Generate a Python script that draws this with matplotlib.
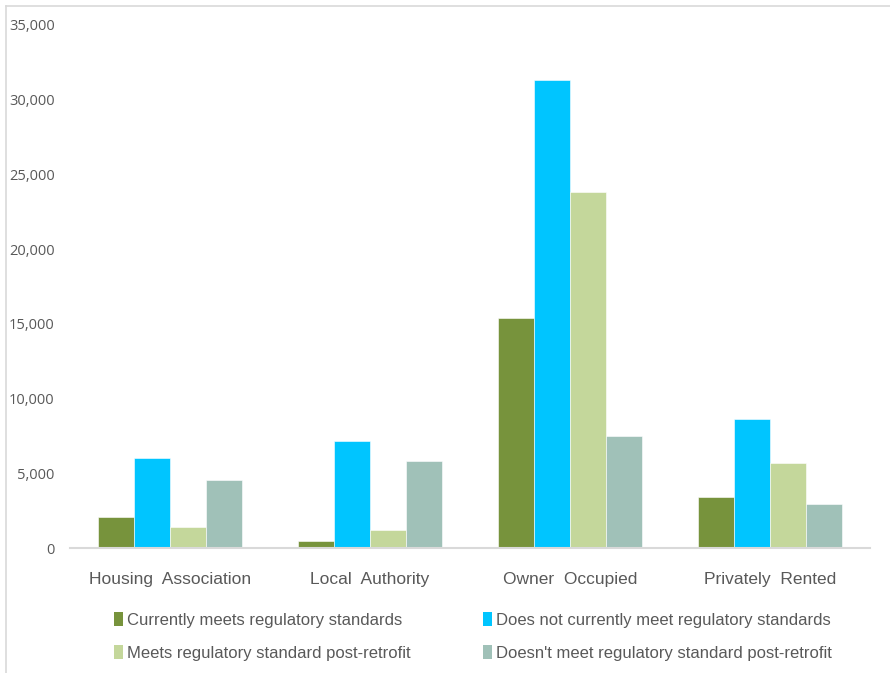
import matplotlib.pyplot as plt
import numpy as np
from matplotlib.lines import Line2D
from matplotlib.patches import Patch

# tenure categories and series (number of homes)
categories = ['Housing  Association', 'Local  Authority', 'Owner  Occupied', 'Privately  Rented']
series_names = ['Currently meets regulatory standards',
                'Does not currently meet regulatory standards',
                'Meets regulatory standard post-retrofit',
                "Doesn't meet regulatory standard post-retrofit"]
meets_now = [2100, 450, 15400, 3400]
not_meets_now = [6000, 7150, 31300, 8650]
meets_post = [1400, 1200, 23800, 5700]
not_meets_post = [4550, 5800, 7500, 2950]
yticks = [0, 5000, 10000, 15000, 20000, 25000, 30000, 35000]

colors = ['#77933c', '#00c5ff', '#c4d79b', '#a0c1b8']
text_color = '#595959'

fig = plt.figure(figsize=(8.9, 6.73), dpi=100)
ax = fig.add_axes([70/890, (673-548)/673, 800/890, (548-25)/673])

x = np.arange(len(categories))
w = 0.18
all_series = [meets_now, not_meets_now, meets_post, not_meets_post]
for i, vals in enumerate(all_series):
    ax.bar(x + (i - 1.5) * w, vals, width=w, color=colors[i],
           edgecolor='white', linewidth=0.4, label=series_names[i])

ax.set_xlim(-0.5, 3.5)
ax.set_ylim(0, 35000)
ax.set_yticks(yticks)
ax.set_yticklabels([f'{v:,}' for v in yticks], color=text_color, fontsize=10.5,
                   family=['Open Sans', 'DejaVu Sans'])
ax.set_xticks(x)
ax.set_xticklabels(categories, color=text_color, fontsize=12.5,
                   family=['Liberation Sans', 'DejaVu Sans'])
ax.tick_params(axis='both', length=0)
ax.tick_params(axis='x', pad=17)
ax.tick_params(axis='y', pad=11)
for s in ['top', 'right', 'left']:
    ax.spines[s].set_visible(False)
ax.spines['bottom'].set_color('#d9d9d9')
ax.spines['bottom'].set_linewidth(1.5)

# legend, filled row by row like the original
order = [0, 2, 1, 3]
handles = [Patch(facecolor=colors[i], edgecolor='none') for i in order]
labels = [series_names[i] for i in order]
leg = fig.legend(handles, labels, ncol=2, loc='upper left',
                 bbox_to_anchor=(99/890, 1 - 597/673), frameon=False,
                 handlelength=0.55, handleheight=0.9, handletextpad=0.25,
                 columnspacing=4.3, labelspacing=1.05,
                 prop={'family': ['Liberation Sans', 'DejaVu Sans'], 'size': 12})
for t in leg.get_texts():
    t.set_color(text_color)

# light frame around the chart area (left and top edges visible)
fig.add_artist(Line2D([6/890, 6/890], [0, 1 - 6/673], color='#d9d9d9', lw=1.2))
fig.add_artist(Line2D([6/890, 1], [1 - 6/673, 1 - 6/673], color='#d9d9d9', lw=1.2))

plt.savefig('out.png', dpi=100)
